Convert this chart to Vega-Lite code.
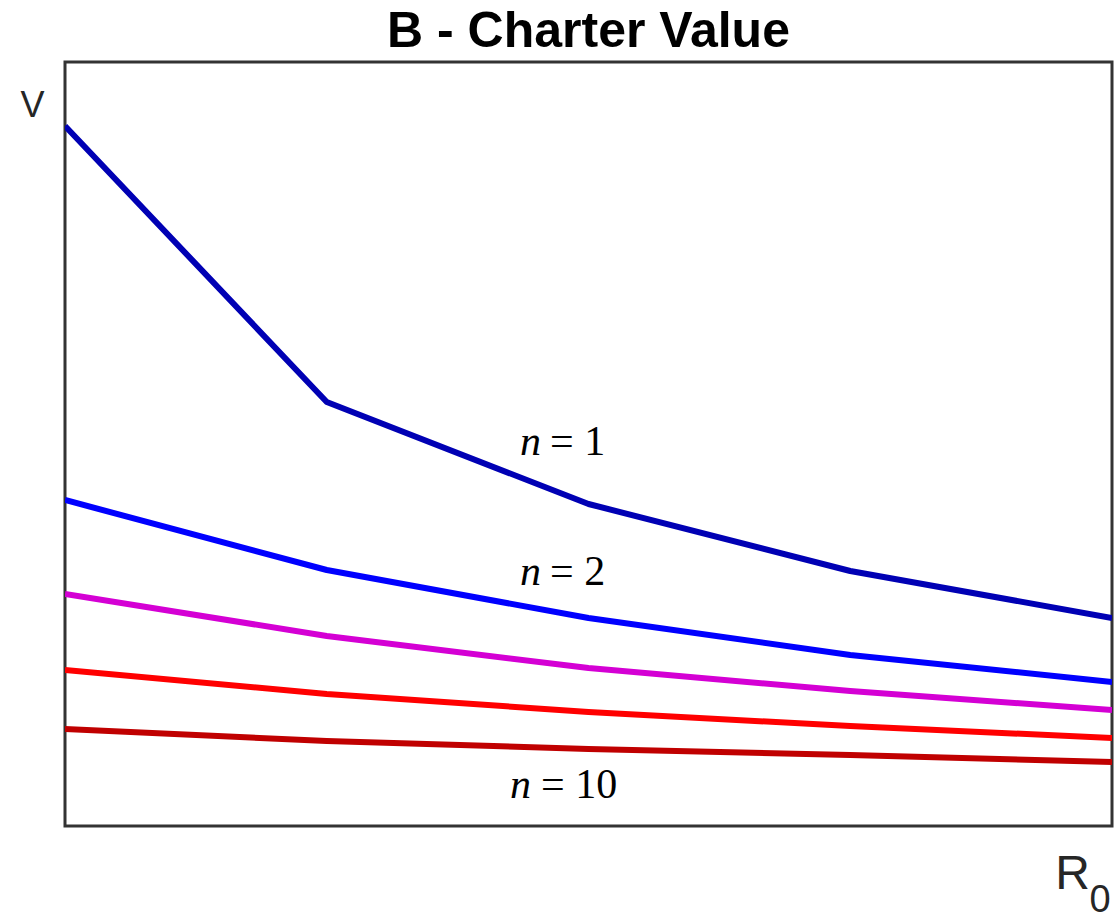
{
  "$schema": "https://vega.github.io/schema/vega-lite/v6.json",
  "width": 1047,
  "height": 764,
  "autosize": {"type": "none"},
  "padding": {"left": 65, "top": 62, "right": 2, "bottom": 96},
  "background": "white",
  "title": {
    "text": "B - Charter Value",
    "font": "Liberation Sans",
    "fontSize": 50,
    "fontWeight": "bold",
    "color": "#000000",
    "anchor": "middle",
    "baseline": "alphabetic",
    "offset": 14,
    "dy": 49
  },
  "config": {
    "view": {"stroke": "#333333", "strokeWidth": 3},
    "axis": {"labels": false, "ticks": false, "grid": false, "domain": false}
  },
  "datasets": {
    "curves": [
      {"series": "n=1", "order": 1, "r": 0, "v": 700},
      {"series": "n=1", "order": 1, "r": 1, "v": 424},
      {"series": "n=1", "order": 1, "r": 2, "v": 322},
      {"series": "n=1", "order": 1, "r": 3, "v": 255},
      {"series": "n=1", "order": 1, "r": 4, "v": 208},
      {"series": "n=2", "order": 2, "r": 0, "v": 326},
      {"series": "n=2", "order": 2, "r": 1, "v": 256},
      {"series": "n=2", "order": 2, "r": 2, "v": 208},
      {"series": "n=2", "order": 2, "r": 3, "v": 171},
      {"series": "n=2", "order": 2, "r": 4, "v": 144},
      {"series": "n=3", "order": 3, "r": 0, "v": 232},
      {"series": "n=3", "order": 3, "r": 1, "v": 190},
      {"series": "n=3", "order": 3, "r": 2, "v": 158},
      {"series": "n=3", "order": 3, "r": 3, "v": 135},
      {"series": "n=3", "order": 3, "r": 4, "v": 116},
      {"series": "n=5", "order": 4, "r": 0, "v": 156},
      {"series": "n=5", "order": 4, "r": 1, "v": 132},
      {"series": "n=5", "order": 4, "r": 2, "v": 114},
      {"series": "n=5", "order": 4, "r": 3, "v": 100},
      {"series": "n=5", "order": 4, "r": 4, "v": 88},
      {"series": "n=10", "order": 5, "r": 0, "v": 97},
      {"series": "n=10", "order": 5, "r": 1, "v": 85},
      {"series": "n=10", "order": 5, "r": 2, "v": 77},
      {"series": "n=10", "order": 5, "r": 3, "v": 71},
      {"series": "n=10", "order": 5, "r": 4, "v": 64}
    ],
    "labels": [
      {"xn": 1.8185, "xr": 1.853, "v": 371, "rest": "= 1"},
      {"xn": 1.8185, "xr": 1.853, "v": 241, "rest": "= 2"},
      {"xn": 1.780, "xr": 1.8185, "v": 28, "rest": "= 10"}
    ],
    "sub": [
      {"x": 3.954, "v": -86, "t": "0"}
    ]
  },
  "layer": [
    {
      "data": {"name": "curves"},
      "mark": {"type": "line", "strokeWidth": 6, "strokeJoin": "round", "clip": true},
      "encoding": {
        "x": {
          "field": "r", "type": "quantitative",
          "scale": {"domain": [0, 4], "nice": false, "zero": false},
          "axis": {
            "title": "R", "titleFont": "Liberation Sans", "titleFontSize": 48,
            "titleFontWeight": "normal", "titleColor": "#262626",
            "titleAlign": "center", "titleBaseline": "alphabetic",
            "titleX": 1007, "titleY": 62, "titleAngle": 0
          }
        },
        "y": {
          "field": "v", "type": "quantitative",
          "scale": {"domain": [0, 764], "nice": false, "zero": false},
          "axis": {
            "title": "V", "titleFont": "Liberation Sans", "titleFontSize": 36,
            "titleFontWeight": "normal", "titleColor": "#262626",
            "titleAngle": 0, "titleAlign": "center", "titleBaseline": "alphabetic",
            "titleX": -33, "titleY": 54
          }
        },
        "color": {
          "field": "series", "type": "nominal",
          "scale": {
            "domain": ["n=1", "n=2", "n=3", "n=5", "n=10"],
            "range": ["#0000b4", "#0000ff", "#d400d4", "#ff0000", "#c00000"]
          },
          "legend": null
        },
        "detail": {"field": "order", "type": "ordinal"}
      }
    },
    {
      "data": {"name": "labels"},
      "mark": {"type": "text", "font": "Liberation Serif", "fontSize": 42, "fontStyle": "italic", "align": "right", "baseline": "alphabetic", "color": "#000000"},
      "encoding": {
        "x": {"field": "xn", "type": "quantitative"},
        "y": {"field": "v", "type": "quantitative"},
        "text": {"value": "n"}
      }
    },
    {
      "data": {"name": "labels"},
      "mark": {"type": "text", "font": "Liberation Serif", "fontSize": 42, "align": "left", "baseline": "alphabetic", "color": "#000000"},
      "encoding": {
        "x": {"field": "xr", "type": "quantitative"},
        "y": {"field": "v", "type": "quantitative"},
        "text": {"field": "rest", "type": "nominal"}
      }
    },
    {
      "data": {"name": "sub"},
      "mark": {"type": "text", "font": "Liberation Sans", "fontSize": 38, "align": "center", "baseline": "alphabetic", "color": "#262626"},
      "encoding": {
        "x": {"field": "x", "type": "quantitative"},
        "y": {"field": "v", "type": "quantitative"},
        "text": {"field": "t", "type": "nominal"}
      }
    }
  ]
}
